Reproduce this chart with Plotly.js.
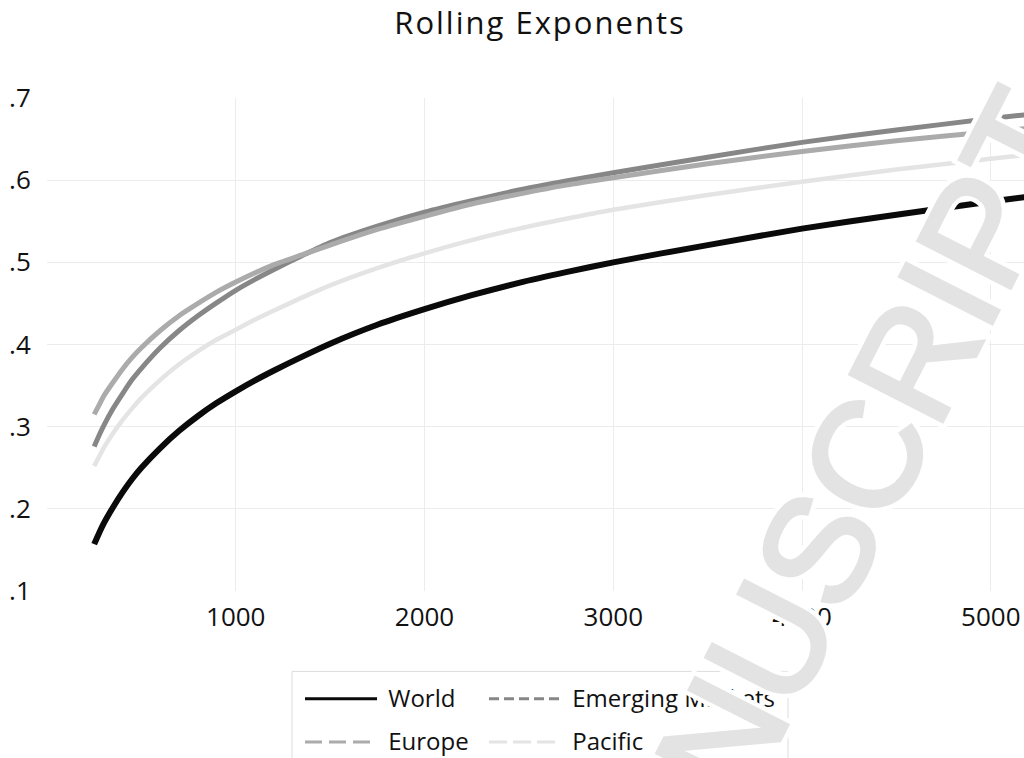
<!DOCTYPE html>
<html>
<head>
<meta charset="utf-8">
<script src="https://cdn.plot.ly/plotly-3.0.1.min.js"></script>
<style>
  html, body { margin: 0; padding: 0; background: #fff; }
  #chart { width: 1024px; height: 758px; }
  .gtitle { letter-spacing: 2px; }
  /* white halo behind the watermark, then the watermark itself slightly emboldened */
  .annotation[data-index="0"] .annotation-text { paint-order: stroke; stroke: #ffffff; stroke-width: 13px; stroke-linejoin: miter; }
  .annotation[data-index="1"] .annotation-text { stroke: #e3e3e3; stroke-width: 4px; stroke-linejoin: miter; }
</style>
</head>
<body>
<div id="chart"></div>
<script>
// Window length (observations) at which each exponent is estimated
const windowLength = [250, 275, 300, 350, 400, 450, 500, 600, 700, 800, 900, 1000, 1100, 1200, 1350, 1500, 1750, 2000, 2250, 2500, 2750, 3000, 3500, 4000, 4500, 5000, 5200];

// Rolling exponent per region
const world    = [0.157, 0.170, 0.182, 0.202, 0.220, 0.236, 0.250, 0.274, 0.295, 0.313, 0.329, 0.343, 0.356, 0.368, 0.385, 0.401, 0.424, 0.443, 0.460, 0.475, 0.488, 0.500, 0.521, 0.541, 0.558, 0.574, 0.580];
const emerging = [0.276, 0.289, 0.301, 0.322, 0.340, 0.357, 0.371, 0.396, 0.417, 0.435, 0.451, 0.466, 0.479, 0.491, 0.508, 0.524, 0.544, 0.561, 0.575, 0.588, 0.599, 0.609, 0.628, 0.646, 0.661, 0.675, 0.680];
const europe   = [0.315, 0.326, 0.337, 0.354, 0.370, 0.384, 0.396, 0.417, 0.435, 0.450, 0.464, 0.476, 0.487, 0.497, 0.509, 0.521, 0.540, 0.556, 0.571, 0.583, 0.594, 0.603, 0.620, 0.635, 0.648, 0.659, 0.663];
const pacific  = [0.252, 0.263, 0.274, 0.292, 0.308, 0.322, 0.335, 0.357, 0.376, 0.392, 0.406, 0.418, 0.430, 0.441, 0.457, 0.472, 0.493, 0.511, 0.527, 0.541, 0.553, 0.564, 0.582, 0.598, 0.613, 0.626, 0.631];

const seriesNames = ['World', 'Emerging Markets', 'Europe', 'Pacific'];
const seriesColors = ['#0a0a0a', '#878787', '#ababab', '#e4e4e4'];
const seriesWidths = [6, 5, 5, 4.5];
const legendDash = ['solid', '10px,5px', '17px,7px', '18px,6px'];
const legendId = ['legend', 'legend2', 'legend', 'legend2'];

const yTickVals = [0.1, 0.2, 0.3, 0.4, 0.5, 0.6, 0.7];
const yTickText = ['.1', '.2', '.3', '.4', '.5', '.6', '.7'];
const xTickVals = [1000, 2000, 3000, 4000, 5000];

const watermarkText = 'MANUSCRIPT';

const seriesValues = [world, emerging, europe, pacific];

// Curves drawn as continuous lines
const curves = seriesValues.map((vals, i) => ({
  type: 'scatter',
  mode: 'lines',
  x: windowLength,
  y: vals,
  name: seriesNames[i],
  showlegend: false,
  line: { color: seriesColors[i], width: seriesWidths[i], shape: 'spline', smoothing: 0.6 },
  hoverinfo: 'skip'
}));

// Legend keys carry the dash styles
const keys = seriesNames.map((name, i) => ({
  type: 'scatter',
  mode: 'lines',
  x: [null],
  y: [null],
  name: '<span style="font-size:24px;baseline-shift:4px">\u00a0' + name + '</span>',
  legend: legendId[i],
  showlegend: true,
  line: { color: seriesColors[i], width: 3, dash: legendDash[i] }
}));

const legendFont = { family: 'Open Sans, sans-serif', size: 31, color: '#111111' };
const legendBase = {
  orientation: 'v',
  xref: 'container', yref: 'container',
  xanchor: 'left', yanchor: 'top',
  y: 1 - 672 / 758,
  bgcolor: 'rgba(255,255,255,0)',
  borderwidth: 0,
  itemwidth: 72,
  font: legendFont
};

const watermarkBase = {
  text: watermarkText,
  xref: 'paper', yref: 'paper',
  x: (820 - 47) / 977, y: (591.5 - 546) / 493.5,
  xanchor: 'center', yanchor: 'middle',
  textangle: -63,
  showarrow: false
};

const layout = {
  width: 1024,
  height: 758,
  paper_bgcolor: '#ffffff',
  plot_bgcolor: '#ffffff',
  margin: { l: 47, r: 0, t: 98, b: 166.5, pad: 0, autoexpand: false },
  font: { family: 'Open Sans, sans-serif', color: '#111111' },
  title: {
    text: 'Rolling Exponents',
    font: { family: 'Open Sans, sans-serif', size: 31, color: '#111111' },
    x: 540 / 1024, xref: 'container', xanchor: 'center',
    y: 1 - 23 / 758, yref: 'container', yanchor: 'middle'
  },
  xaxis: {
    range: [0, 5176],
    tickvals: xTickVals,
    automargin: false,
    showgrid: true, gridcolor: '#ececec', gridwidth: 1,
    zeroline: false, showline: false,
    ticks: 'outside', ticklen: 3, tickcolor: 'rgba(0,0,0,0)',
    tickfont: { family: 'Open Sans, sans-serif', size: 26, color: '#111111' }
  },
  yaxis: {
    range: [0.1, 0.7],
    tickvals: yTickVals,
    ticktext: yTickText,
    automargin: false,
    showgrid: true, gridcolor: '#ececec', gridwidth: 1,
    zeroline: false, showline: false,
    ticks: 'outside', ticklen: 10, tickcolor: 'rgba(0,0,0,0)',
    tickfont: { family: 'Open Sans, sans-serif', size: 26, color: '#111111' }
  },
  legend: Object.assign({}, legendBase, { x: 300 / 1024 }),
  legend2: Object.assign({}, legendBase, { x: 484 / 1024 }),
  // Frame around both legend columns
  shapes: [{
    type: 'rect', layer: 'below',
    xref: 'paper', yref: 'paper',
    x0: (292 - 47) / 977, x1: (788 - 47) / 977,
    y0: (591.5 - 672) / 493.5, y1: (591.5 - 790) / 493.5,
    line: { color: '#dcdcdc', width: 1 },
    fillcolor: 'rgba(0,0,0,0)'
  }],
  annotations: [
    Object.assign({}, watermarkBase, { font: { family: 'Liberation Sans, Arial, sans-serif', size: 150, color: '#ffffff' } }),
    Object.assign({}, watermarkBase, { font: { family: 'Liberation Sans, Arial, sans-serif', size: 150, color: '#e3e3e3' } })
  ]
};

Plotly.newPlot('chart', curves.concat(keys), layout, { staticPlot: true, displayModeBar: false });
</script>
</body>
</html>
